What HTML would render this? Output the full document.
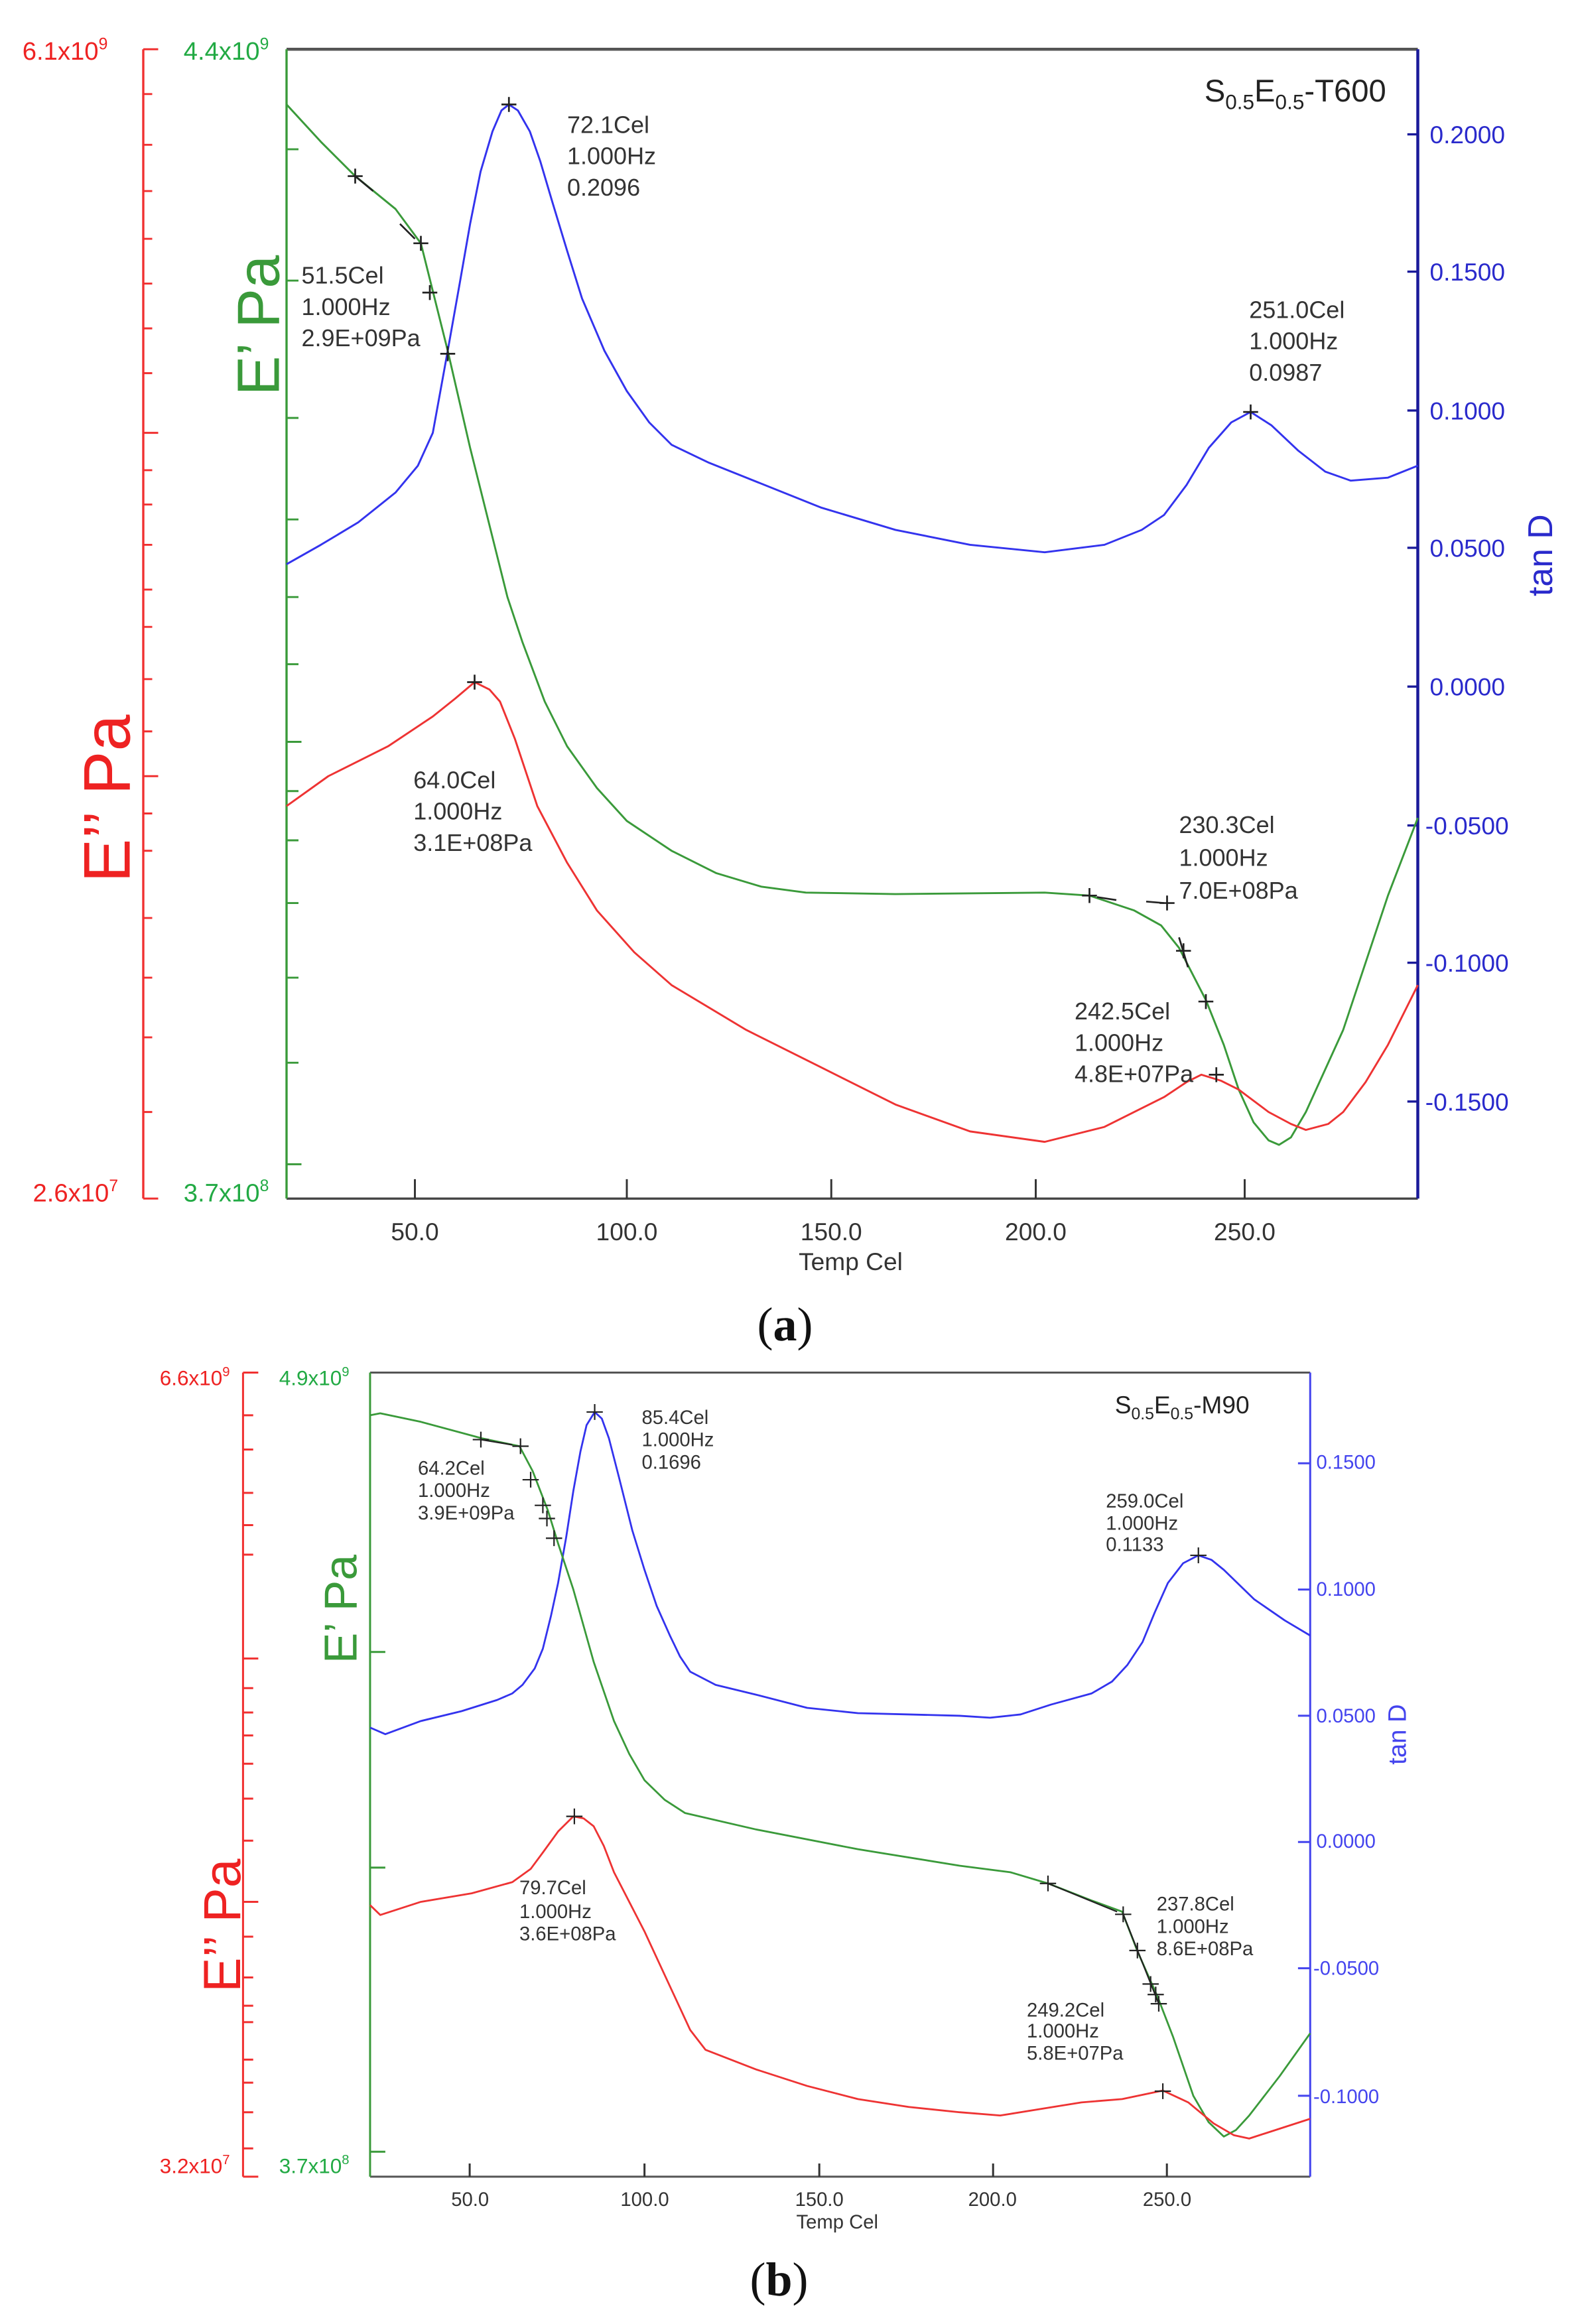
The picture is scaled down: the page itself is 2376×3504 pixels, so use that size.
<!DOCTYPE html>
<html><head><meta charset="utf-8"><style>
html,body{margin:0;padding:0;background:#fff;}
svg{display:block;}
text{font-family:"Liberation Sans","DejaVu Sans",sans-serif;}
</style></head><body>
<svg width="2376" height="3504" viewBox="0 0 1056 1557" preserveAspectRatio="none" xmlns="http://www.w3.org/2000/svg">
<rect width="1056" height="1557" fill="#fff"/>

<!-- ===== Chart (a) ===== -->
<g fill="none" stroke-linecap="butt">
<line x1="192" y1="33" x2="950" y2="33" stroke="#555" stroke-width="2"/>
<line x1="192" y1="803" x2="950" y2="803" stroke="#444" stroke-width="1.5"/>
<line x1="192" y1="33" x2="192" y2="803" stroke="#3a9a3a" stroke-width="1.5"/>
<line x1="950" y1="33" x2="950" y2="803" stroke="#1a1a9a" stroke-width="2"/>
<line x1="96" y1="33" x2="96" y2="803" stroke="#f03030" stroke-width="1.5"/>
<path stroke="#f03030" stroke-width="1.3" d="M96 33h10M96 63h6M96 97h6M96 128h6M96 160h6M96 190h6M96 220h6M96 250h6M96 290h10M96 315h6M96 338h6M96 365h6M96 395h6M96 420h6M96 455h6M96 490h6M96 520h10M96 545h6M96 570h6M96 615h6M96 655h6M96 695h6M96 745h6M96 803h10"/>
<path stroke="#3a9a3a" stroke-width="1.3" d="M192 100h8M192 188h8M192 280h8M192 348h8M192 400h8M192 445h8M192 497h10M192 530h8M192 563h8M192 605h8M192 655h8M192 712h8M192 780h10"/>
<path stroke="#1a1a9a" stroke-width="1.5" d="M943 90h7M943 182h7M943 275h7M943 367h7M943 460h7M943 553h7M943 645h7M943 738h7"/>
<path stroke="#333" stroke-width="1.3" d="M278 803v-13M420 803v-13M557 803v-13M694 803v-13M834 803v-13"/>
</g>
<g fill="none" stroke-width="1.3" stroke-linejoin="round">
<path stroke="#3333ee" d="M192 378 L215 365 L240 350 L265 330 L280 312 L290 290 L300 235 L308 190 L315 150 L322 115 L330 88 L336 74 L341 70 L347 74 L355 88 L362 108 L370 135 L380 168 L390 200 L405 235 L420 262 L435 283 L450 298 L475 310 L500 320 L550 340 L600 355 L650 365 L700 370 L740 365 L765 355 L780 345 L795 325 L810 300 L825 283 L838 276 L852 285 L870 302 L888 316 L905 322 L930 320 L950 312"/>
<path stroke="#3a9a3a" d="M192 70 L215 95 L238 118 L265 140 L282 163 L290 195 L300 235 L315 300 L330 360 L340 400 L350 430 L365 470 L380 500 L400 528 L420 550 L450 570 L480 585 L510 594 L540 598 L600 599 L700 598 L730 600 L760 610 L778 620 L790 635 L808 670 L820 700 L830 730 L840 752 L850 764 L857 767 L865 762 L875 745 L900 690 L930 600 L950 548"/>
<path stroke="#ee3333" d="M192 540 L220 520 L260 500 L290 480 L305 468 L318 457 L328 462 L335 470 L345 495 L360 540 L380 578 L400 610 L425 638 L450 660 L500 690 L550 715 L600 740 L650 758 L700 765 L740 755 L780 735 L795 725 L805 720 L818 724 L830 730 L850 745 L865 753 L875 757 L890 753 L900 745 L915 725 L930 700 L950 660"/>
</g>
<g stroke="#222" stroke-width="1.2" fill="none">
<path d="M233 118h10M238 113v10 M277 163h10M282 158v10 M283 196h10M288 191v10 M295 237h10M300 232v10 M336 70h10M341 65v10 M313 457h10M318 452v10 M833 276h10M838 271v10 M725 600h10M730 595v10 M777 605h10M782 600v10 M788 637h10M793 632v10 M803 671h10M808 666v10 M810 720h10M815 715v10"/>
<path d="M238 118 L250 128 M268 150 L278 160 M735 601 L748 603 M768 604 L780 605 M790 628 L796 648"/>
</g>
<g font-size="16" fill="#333">
<text x="380" y="89">72.1Cel</text><text x="380" y="110">1.000Hz</text><text x="380" y="131">0.2096</text>
<text x="202" y="190">51.5Cel</text><text x="202" y="211">1.000Hz</text><text x="202" y="232">2.9E+09Pa</text>
<text x="837" y="213">251.0Cel</text><text x="837" y="234">1.000Hz</text><text x="837" y="255">0.0987</text>
<text x="277" y="528">64.0Cel</text><text x="277" y="549">1.000Hz</text><text x="277" y="570">3.1E+08Pa</text>
<text x="790" y="558">230.3Cel</text><text x="790" y="580">1.000Hz</text><text x="790" y="602">7.0E+08Pa</text>
<text x="720" y="683">242.5Cel</text><text x="720" y="704">1.000Hz</text><text x="720" y="725">4.8E+07Pa</text>
</g>
<text x="807" y="68" font-size="21" fill="#222">S<tspan font-size="14" dy="5">0.5</tspan><tspan dy="-5">E</tspan><tspan font-size="14" dy="5">0.5</tspan><tspan dy="-5">-T600</tspan></text>
<g font-size="16.5" fill="#2a2acc">
<text x="958" y="96">0.2000</text><text x="958" y="188">0.1500</text><text x="958" y="281">0.1000</text><text x="958" y="373">0.0500</text><text x="958" y="466">0.0000</text><text x="955" y="559">-0.0500</text><text x="955" y="651">-0.1000</text><text x="955" y="744">-0.1500</text>
</g>
<g font-size="16.5" fill="#333" text-anchor="middle">
<text x="278" y="831">50.0</text><text x="420" y="831">100.0</text><text x="557" y="831">150.0</text><text x="694" y="831">200.0</text><text x="834" y="831">250.0</text>
<text x="570" y="851">Temp Cel</text>
</g>
<text x="1040" y="372" font-size="23" fill="#2a2acc" text-anchor="middle" transform="rotate(-90 1040 372)">tan D</text>
<text x="187" y="218" font-size="40" fill="#3a9a3a" text-anchor="middle" transform="rotate(-90 187 218)">E’ Pa</text>
<text x="87" y="535" font-size="44" fill="#ee2222" text-anchor="middle" transform="rotate(-90 87 535)">E’’ Pa</text>
<text x="15" y="40" font-size="17" fill="#ee2222">6.1x10<tspan font-size="11" dy="-7">9</tspan></text>
<text x="123" y="40" font-size="17" fill="#22aa44">4.4x10<tspan font-size="11" dy="-7">9</tspan></text>
<text x="22" y="805" font-size="17" fill="#ee2222">2.6x10<tspan font-size="11" dy="-7">7</tspan></text>
<text x="123" y="805" font-size="17" fill="#22aa44">3.7x10<tspan font-size="11" dy="-7">8</tspan></text>
<text x="526" y="898" font-size="32" fill="#111" text-anchor="middle" style="font-family:'Liberation Serif',serif">(<tspan font-weight="bold">a</tspan>)</text>

<!-- ===== Chart (b) ===== -->
<g transform="translate(-4,866.7) scale(0.681,0.4405)">
<g fill="none" stroke-linejoin="round">
<line x1="370" y1="120" x2="1295" y2="120" stroke="#555" stroke-width="3" vector-effect="non-scaling-stroke"/>
<line x1="370" y1="1343" x2="1295" y2="1343" stroke="#555" stroke-width="3" vector-effect="non-scaling-stroke"/>
<line x1="370" y1="120" x2="370" y2="1343" stroke="#3a9a3a" stroke-width="3" vector-effect="non-scaling-stroke"/>
<line x1="1295" y1="120" x2="1295" y2="1343" stroke="#4444ee" stroke-width="3" vector-effect="non-scaling-stroke"/>
<line x1="245" y1="120" x2="245" y2="1343" stroke="#f03030" stroke-width="3" vector-effect="non-scaling-stroke"/>
<path stroke="#f03030" stroke-width="3" vector-effect="non-scaling-stroke" d="M245 120h15M245 185h10M245 237h10M245 303h10M245 352h10M245 397h10M245 555h15M245 600h10M245 637h10M245 672h10M245 715h10M245 768h10M245 832h10M245 925h15M245 978h10M245 1040h10M245 1083h10M245 1108h10M245 1165h10M245 1200h10M245 1245h10M245 1300h10M245 1343h15"/>
<path stroke="#3a9a3a" stroke-width="3" vector-effect="non-scaling-stroke" d="M370 545h15M370 873h15M370 1305h15"/>
<path stroke="#4444ee" stroke-width="3" vector-effect="non-scaling-stroke" d="M1283 258h12M1283 450h12M1283 642h12M1283 834h12M1283 1026h12M1283 1220h12"/>
<path stroke="#333" stroke-width="3" vector-effect="non-scaling-stroke" d="M468 1343v-20M640 1343v-20M812 1343v-20M983 1343v-20M1154 1343v-20"/>
<path stroke="#3333ee" stroke-width="2.8" vector-effect="non-scaling-stroke" d="M370 660 L385 670 L420 650 L460 635 L495 618 L510 608 L520 595 L532 570 L540 540 L548 490 L555 440 L563 370 L570 300 L577 240 L583 200 L591 180 L598 190 L605 220 L615 280 L628 360 L640 420 L652 475 L665 520 L675 552 L685 575 L710 595 L750 610 L800 630 L850 638 L900 640 L950 642 L980 645 L1010 640 L1040 625 L1080 608 L1100 590 L1115 565 L1130 530 L1142 485 L1155 440 L1170 410 L1185 398 L1198 405 L1210 420 L1240 465 L1270 497 L1295 520"/>
<path stroke="#3a9a3a" stroke-width="2.8" vector-effect="non-scaling-stroke" d="M370 185 L380 182 L420 195 L480 220 L517 232 L530 270 L545 330 L555 380 L570 450 L590 560 L610 650 L625 700 L640 740 L660 770 L680 790 L750 815 L850 845 L950 870 L1000 880 L1037 897 L1080 923 L1110 940 L1125 1000 L1145 1070 L1160 1130 L1170 1175 L1180 1220 L1195 1260 L1210 1282 L1222 1272 L1235 1250 L1265 1190 L1295 1125"/>
<path stroke="#ee3333" stroke-width="2.8" vector-effect="non-scaling-stroke" d="M370 930 L380 945 L420 925 L470 912 L510 895 L528 875 L540 850 L555 818 L570 795 L580 798 L590 810 L600 840 L610 880 L625 925 L640 970 L655 1020 L670 1070 L685 1120 L700 1150 L750 1180 L800 1205 L850 1225 L900 1237 L950 1245 L990 1250 L1030 1240 L1070 1230 L1110 1225 L1150 1212 L1175 1230 L1200 1262 L1220 1280 L1235 1285 L1265 1270 L1295 1255"/>
<path stroke="#222" stroke-width="2.2" vector-effect="non-scaling-stroke" d="M471 222h16M479 210v24 M510 232h16M518 220v24 M520 283h16M528 271v24 M532 322h16M540 310v24 M536 342h16M544 330v24 M543 372h16M551 360v24 M583 180h16M591 168v24 M563 795h16M571 783v24 M1177 398h16M1185 386v24 M1029 897h16M1037 885v24 M1103 944h16M1111 932v24 M1117 999h16M1125 987v24 M1130 1050h16M1138 1038v24 M1135 1066h16M1143 1054v24 M1138 1080h16M1146 1068v24 M1142 1213h16M1150 1201v24 M479 222 L510 230 M1037 897 L1105 940 M1111 944 L1146 1080"/>
</g>
</g>
<g font-size="13" fill="#333">
<text x="430" y="954">85.4Cel</text><text x="430" y="969">1.000Hz</text><text x="430" y="984">0.1696</text>
<text x="280" y="988">64.2Cel</text><text x="280" y="1003">1.000Hz</text><text x="280" y="1018">3.9E+09Pa</text>
<text x="741" y="1010">259.0Cel</text><text x="741" y="1025">1.000Hz</text><text x="741" y="1039">0.1133</text>
<text x="348" y="1269">79.7Cel</text><text x="348" y="1285">1.000Hz</text><text x="348" y="1300">3.6E+08Pa</text>
<text x="775" y="1280">237.8Cel</text><text x="775" y="1295">1.000Hz</text><text x="775" y="1310">8.6E+08Pa</text>
<text x="688" y="1351">249.2Cel</text><text x="688" y="1365">1.000Hz</text><text x="688" y="1380">5.8E+07Pa</text>
</g>
<text x="747" y="947" font-size="16.5" fill="#222">S<tspan font-size="11" dy="4">0.5</tspan><tspan dy="-4">E</tspan><tspan font-size="11" dy="4">0.5</tspan><tspan dy="-4">-M90</tspan></text>
<g font-size="13" fill="#4444ee">
<text x="882" y="984">0.1500</text><text x="882" y="1069">0.1000</text><text x="882" y="1154">0.0500</text><text x="882" y="1238">0.0000</text><text x="880" y="1323">-0.0500</text><text x="880" y="1409">-0.1000</text>
</g>
<g font-size="13" fill="#333" text-anchor="middle">
<text x="315" y="1478">50.0</text><text x="432" y="1478">100.0</text><text x="549" y="1478">150.0</text><text x="665" y="1478">200.0</text><text x="782" y="1478">250.0</text>
<text x="561" y="1493">Temp Cel</text>
</g>
<text x="942" y="1162" font-size="17" fill="#4444ee" text-anchor="middle" transform="rotate(-90 942 1162)">tan D</text>
<text x="239" y="1078" font-size="31" fill="#3a9a3a" text-anchor="middle" transform="rotate(-90 239 1078)">E’ Pa</text>
<text x="161" y="1290" font-size="35" fill="#ee2222" text-anchor="middle" transform="rotate(-90 161 1290)">E’’ Pa</text>
<text x="107" y="928" font-size="14" fill="#ee2222">6.6x10<tspan font-size="9" dy="-6">9</tspan></text>
<text x="187" y="928" font-size="14" fill="#22aa44">4.9x10<tspan font-size="9" dy="-6">9</tspan></text>
<text x="107" y="1456" font-size="14" fill="#ee2222">3.2x10<tspan font-size="9" dy="-6">7</tspan></text>
<text x="187" y="1456" font-size="14" fill="#22aa44">3.7x10<tspan font-size="9" dy="-6">8</tspan></text>
<text x="522" y="1538" font-size="32" fill="#111" text-anchor="middle" style="font-family:'Liberation Serif',serif">(<tspan font-weight="bold">b</tspan>)</text>
</svg>
</body></html>
